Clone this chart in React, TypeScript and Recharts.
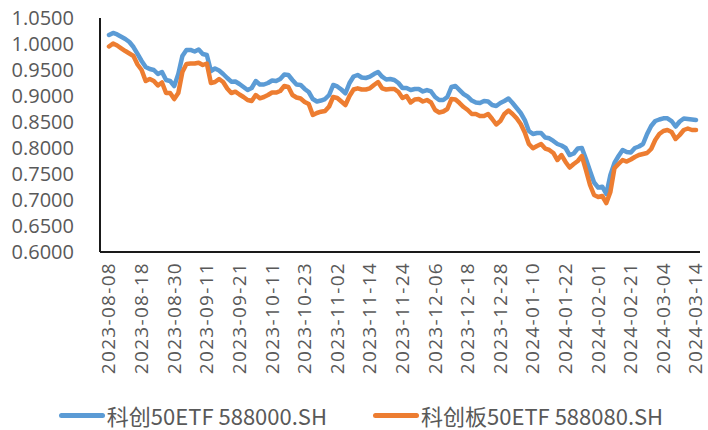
import React from 'react';
import { LineChart, Line, XAxis, YAxis, Legend } from 'recharts';

const dates = [
  '2023-08-08','2023-08-09','2023-08-10','2023-08-11','2023-08-14','2023-08-15','2023-08-16','2023-08-17','2023-08-18','2023-08-21',
  '2023-08-22','2023-08-23','2023-08-24','2023-08-25','2023-08-28','2023-08-29','2023-08-30','2023-08-31','2023-09-01','2023-09-04',
  '2023-09-05','2023-09-06','2023-09-07','2023-09-08','2023-09-11','2023-09-12','2023-09-13','2023-09-14','2023-09-15','2023-09-18',
  '2023-09-19','2023-09-20','2023-09-21','2023-09-22','2023-09-25','2023-09-26','2023-09-27','2023-09-28','2023-10-09','2023-10-10',
  '2023-10-11','2023-10-12','2023-10-13','2023-10-16','2023-10-17','2023-10-18','2023-10-19','2023-10-20','2023-10-23','2023-10-24',
  '2023-10-25','2023-10-26','2023-10-27','2023-10-30','2023-10-31','2023-11-01','2023-11-02','2023-11-03','2023-11-06','2023-11-07',
  '2023-11-08','2023-11-09','2023-11-10','2023-11-13','2023-11-14','2023-11-15','2023-11-16','2023-11-17','2023-11-20','2023-11-21',
  '2023-11-22','2023-11-23','2023-11-24','2023-11-27','2023-11-28','2023-11-29','2023-11-30','2023-12-01','2023-12-04','2023-12-05',
  '2023-12-06','2023-12-07','2023-12-08','2023-12-11','2023-12-12','2023-12-13','2023-12-14','2023-12-15','2023-12-18','2023-12-19',
  '2023-12-20','2023-12-21','2023-12-22','2023-12-25','2023-12-26','2023-12-27','2023-12-28','2023-12-29','2024-01-02','2024-01-03',
  '2024-01-04','2024-01-05','2024-01-08','2024-01-09','2024-01-10','2024-01-11','2024-01-12','2024-01-15','2024-01-16','2024-01-17',
  '2024-01-18','2024-01-19','2024-01-22','2024-01-23','2024-01-24','2024-01-25','2024-01-26','2024-01-29','2024-01-30','2024-01-31',
  '2024-02-01','2024-02-02','2024-02-05','2024-02-06','2024-02-07','2024-02-08','2024-02-19','2024-02-20','2024-02-21','2024-02-22',
  '2024-02-23','2024-02-26','2024-02-27','2024-02-28','2024-02-29','2024-03-01','2024-03-04','2024-03-05','2024-03-06','2024-03-07',
  '2024-03-08','2024-03-11','2024-03-12','2024-03-13','2024-03-14',
];

const etf588000 = [
  1.0173,1.0212,1.0183,1.014,1.0096,1.0038,0.9942,0.9808,0.9673,0.9558,
  0.9519,0.95,0.9423,0.9462,0.9308,0.9288,0.9192,0.9423,0.9769,0.9885,
  0.9885,0.9856,0.9894,0.9808,0.9788,0.9481,0.9529,0.949,0.9423,0.9346,
  0.9275,0.9279,0.9231,0.9173,0.9115,0.9154,0.9288,0.9221,0.9221,0.925,
  0.9298,0.9288,0.9327,0.9413,0.9404,0.9308,0.9221,0.9212,0.9135,0.9077,
  0.8942,0.8894,0.8913,0.8942,0.9019,0.9212,0.9183,0.9125,0.9052,0.925,
  0.9375,0.9404,0.9356,0.9346,0.9371,0.9423,0.9462,0.9371,0.9317,0.9327,
  0.9308,0.925,0.9154,0.9154,0.9115,0.9135,0.9135,0.9087,0.9115,0.9087,
  0.8981,0.8923,0.8923,0.8981,0.9173,0.9192,0.9115,0.9038,0.8987,0.8913,
  0.8875,0.8865,0.8904,0.8894,0.8827,0.8808,0.8865,0.8904,0.8952,0.8865,
  0.8769,0.8673,0.8538,0.8327,0.8269,0.8288,0.8288,0.8202,0.8187,0.8135,
  0.8077,0.8048,0.8,0.7865,0.7894,0.799,0.8,0.7788,0.7558,0.7337,
  0.724,0.7256,0.7115,0.7481,0.7712,0.7846,0.7962,0.7923,0.7913,0.8,
  0.8029,0.8077,0.8269,0.8423,0.8519,0.8548,0.8571,0.8571,0.8519,0.8413,
  0.851,0.8567,0.8558,0.8548,0.8538,
];

const etf588080 = [
  0.9952,1.001,0.9971,0.9917,0.9865,0.9817,0.9769,0.9606,0.95,0.9288,
  0.9327,0.9288,0.9202,0.926,0.9058,0.9058,0.8942,0.9058,0.9462,0.9615,
  0.9625,0.9625,0.964,0.9596,0.9625,0.925,0.9269,0.9327,0.9269,0.9144,
  0.9058,0.9083,0.9029,0.8981,0.8923,0.8904,0.9019,0.8956,0.8981,0.9019,
  0.9067,0.9067,0.9096,0.9192,0.9173,0.9019,0.8971,0.8952,0.8885,0.8846,
  0.8635,0.8673,0.8698,0.8712,0.8798,0.8981,0.8962,0.8894,0.8827,0.9,
  0.9125,0.9148,0.9125,0.9125,0.9148,0.9212,0.9269,0.9148,0.9125,0.9135,
  0.9135,0.9077,0.8962,0.9,0.8875,0.8933,0.8942,0.8894,0.8923,0.8875,
  0.8731,0.8683,0.8702,0.875,0.8942,0.8933,0.8865,0.8788,0.8731,0.8654,
  0.8654,0.8615,0.8615,0.8654,0.8558,0.8452,0.8519,0.8654,0.8721,0.8654,
  0.8571,0.8462,0.8298,0.8077,0.7994,0.8038,0.8077,0.799,0.7962,0.7904,
  0.7769,0.7865,0.7731,0.7625,0.7692,0.775,0.7846,0.7577,0.7288,0.7096,
  0.7058,0.7077,0.6942,0.7154,0.7615,0.7692,0.7769,0.774,0.7779,0.7827,
  0.7865,0.7885,0.7904,0.7981,0.8154,0.8269,0.8327,0.8346,0.8308,0.8173,
  0.825,0.8346,0.8375,0.8346,0.8346,
];

const yTicks = [0.6, 0.65, 0.7, 0.75, 0.8, 0.85, 0.9, 0.95, 1.0, 1.05];
const seriesNames = ['科创50ETF 588000.SH', '科创板50ETF 588080.SH'];
const seriesKeys = ['etf588000', 'etf588080'];
const colors = ['#5B9BD5', '#ED7D31'];

const data = dates.map((d, i) => ({ date: d, etf588000: etf588000[i], etf588080: etf588080[i] }));

const LABEL_FONT = '"Open Sans", "Noto Sans", sans-serif';

const XTick = (props: any) => {
  const { x, y, payload } = props;
  return (
    <g transform={`translate(${x},${y})`}>
      <text
        transform="rotate(-90)"
        x={0}
        y={0}
        dy="0.34em"
        textAnchor="end"
        fill="#595959"
        fontSize={19}
        fontFamily={LABEL_FONT}
        style={{ letterSpacing: '1.3px' }}
      >
        {payload.value}
      </text>
    </g>
  );
};

const renderLegend = () => (
  <div
    style={{
      display: 'flex',
      justifyContent: 'center',
      alignItems: 'center',
      height: 30,
      width: '100%',
      paddingLeft: 14,
      boxSizing: 'border-box',
      fontFamily: '"Noto Sans CJK SC", "Open Sans", sans-serif',
      fontSize: 22,
      lineHeight: '30px',
      color: '#595959',
      whiteSpace: 'nowrap',
    }}
  >
    {seriesNames.map((n, i) => (
      <div key={n} style={{ display: 'flex', alignItems: 'center', marginRight: i === 0 ? 46 : 0 }}>
        <span
          style={{
            display: 'inline-block',
            width: 46,
            height: 5,
            borderRadius: 3,
            background: colors[i],
            marginRight: 2,
          }}
        />
        <span>{n}</span>
      </div>
    ))}
  </div>
);

export default function App() {
  return (
    <div style={{ position: 'absolute', left: 0, top: 0, width: 708, height: 430, background: '#fff' }}>
      <LineChart width={708} height={430} data={data} margin={{ top: 18, right: 8, left: 0, bottom: 0 }}>
        <XAxis
          dataKey="date"
          interval={7}
          tick={<XTick />}
          tickLine={false}
          tickSize={0}
          tickMargin={10}
          height={148}
          padding={{ left: 9, right: 4 }}
          axisLine={{ stroke: '#1a1a1a', strokeWidth: 2 }}
        />
        <YAxis
          domain={[0.6, 1.05]}
          ticks={yTicks}
          interval={0}
          allowDataOverflow
          tickFormatter={(v: number) => v.toFixed(4)}
          width={100}
          tickLine={false}
          tickSize={0}
          tickMargin={26}
          axisLine={{ stroke: '#1a1a1a', strokeWidth: 2 }}
          tick={{ fill: '#595959', fontSize: 20, fontFamily: LABEL_FONT }}
        />
        <Legend verticalAlign="bottom" height={30} content={renderLegend} wrapperStyle={{ left: 0, width: 708 }} />
        {seriesKeys.map((k, i) => (
          <Line
            key={k}
            type="linear"
            dataKey={k}
            name={seriesNames[i]}
            stroke={colors[i]}
            strokeWidth={4.5}
            strokeLinejoin="round"
            strokeLinecap="round"
            dot={false}
            activeDot={false}
            isAnimationActive={false}
          />
        ))}
      </LineChart>
    </div>
  );
}
